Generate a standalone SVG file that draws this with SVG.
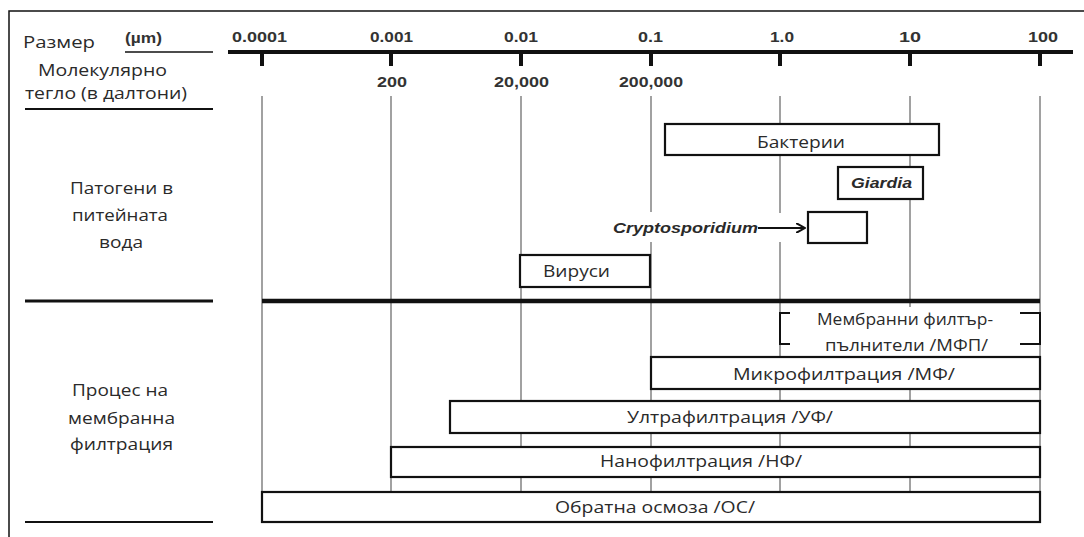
<svg xmlns="http://www.w3.org/2000/svg" width="1084" height="537" viewBox="0 0 1084 537">
<defs>
<style>
.lbl{font-family:"Open Sans","DejaVu Sans",sans-serif;font-size:16px;fill:#2a2a2a}
.num{font-family:"Liberation Sans",Arial,sans-serif;font-size:14px;font-weight:bold;fill:#333}
.it{font-family:"Liberation Sans",Arial,sans-serif;font-size:15px;font-weight:bold;font-style:italic;fill:#2a2a2a}
.grid{stroke:#8a8a8a;stroke-width:1.6;fill:none}
.box{fill:#fff;stroke:#111;stroke-width:2.2}
.rule{stroke:#111;fill:none}
</style>
<marker id="arr" viewBox="0 0 10 10" refX="9" refY="5" markerWidth="10" markerHeight="10" markerUnits="userSpaceOnUse" orient="auto">
<path d="M0,0 L9,5 L0,10" fill="none" stroke="#111" stroke-width="2"/>
</marker>
</defs>
<rect x="0" y="0" width="1084" height="537" fill="#fff"/>
<path class="rule" d="M9,537 V11 H1084" stroke-width="1.5"/>

<g id="axis">
<line class="rule" x1="228" y1="52" x2="1073" y2="52" stroke-width="4"/>
<g fill="#111">
<rect x="260" y="52" width="4" height="14"/>
<rect x="389" y="52" width="4" height="14"/>
<rect x="519" y="52" width="4" height="14"/>
<rect x="649" y="52" width="4" height="14"/>
<rect x="778" y="52" width="4" height="14"/>
<rect x="908" y="52" width="4" height="14"/>
<rect x="1038" y="52" width="4" height="14"/>
</g>
<text class="num" x="232" y="42" textLength="55" lengthAdjust="spacingAndGlyphs">0.0001</text>
<text class="num" x="370" y="42" textLength="43" lengthAdjust="spacingAndGlyphs">0.001</text>
<text class="num" x="504" y="42" textLength="34" lengthAdjust="spacingAndGlyphs">0.01</text>
<text class="num" x="638" y="42" textLength="25" lengthAdjust="spacingAndGlyphs">0.1</text>
<text class="num" x="770" y="42" textLength="24" lengthAdjust="spacingAndGlyphs">1.0</text>
<text class="num" x="899" y="42" textLength="22" lengthAdjust="spacingAndGlyphs">10</text>
<text class="num" x="1028" y="42" textLength="30" lengthAdjust="spacingAndGlyphs">100</text>
<text class="num" x="377" y="87" textLength="30" lengthAdjust="spacingAndGlyphs">200</text>
<text class="num" x="494" y="87" textLength="55" lengthAdjust="spacingAndGlyphs">20,000</text>
<text class="num" x="619" y="87" textLength="64" lengthAdjust="spacingAndGlyphs">200,000</text>
</g>

<g id="grid">
<path class="grid" d="M262,96V492 M391,96V492 M521,96V492 M651,96V212 M651,242V492 M780,96V213 M780,242V492 M910,96V307 M910,356V492 M1040,96V492"/>
<line class="rule" x1="262" y1="301" x2="1040" y2="301" stroke-width="4.5"/>
</g>

<g id="left-labels">
<text class="lbl" x="23" y="48" textLength="72" lengthAdjust="spacingAndGlyphs">Размер</text>
<text class="num" x="125" y="43" font-size="13" textLength="37" lengthAdjust="spacingAndGlyphs">(µm)</text>
<line class="rule" x1="125" y1="52" x2="213" y2="52" stroke-width="1.6"/>
<text class="lbl" x="38" y="76" textLength="129" lengthAdjust="spacingAndGlyphs">Молекулярно</text>
<text class="lbl" x="25" y="99" textLength="162" lengthAdjust="spacingAndGlyphs">тегло (в далтони)</text>
<line class="rule" x1="25" y1="109" x2="213" y2="109" stroke-width="2"/>
<text class="lbl" x="70" y="194" textLength="103" lengthAdjust="spacingAndGlyphs">Патогени в</text>
<text class="lbl" x="72" y="221" textLength="96" lengthAdjust="spacingAndGlyphs">питейната</text>
<text class="lbl" x="99" y="248" textLength="44" lengthAdjust="spacingAndGlyphs">вода</text>
<line class="rule" x1="25" y1="301" x2="213" y2="301" stroke-width="3"/>
<text class="lbl" x="72" y="396" textLength="96" lengthAdjust="spacingAndGlyphs">Процес на</text>
<text class="lbl" x="68" y="424" textLength="107" lengthAdjust="spacingAndGlyphs">мембранна</text>
<text class="lbl" x="70" y="450" textLength="103" lengthAdjust="spacingAndGlyphs">филтрация</text>
<line class="rule" x1="25" y1="522" x2="213" y2="522" stroke-width="2"/>
</g>

<g id="bacteria">
<rect class="box" x="665" y="124" width="274" height="31" stroke-width="2.6"/>
<text class="lbl" x="757" y="148" textLength="88" lengthAdjust="spacingAndGlyphs">Бактерии</text>
</g>
<g id="giardia">
<rect class="box" x="838" y="167" width="85" height="32" stroke-width="3"/>
<text class="it" x="851" y="188" textLength="61" lengthAdjust="spacingAndGlyphs">Giardia</text>
</g>
<g id="cryptosporidium">
<text class="it" x="613" y="233" textLength="145" lengthAdjust="spacingAndGlyphs">Cryptosporidium</text>
<rect class="box" x="808" y="212" width="59" height="31"/>
</g>
<g id="viruses">
<rect class="box" x="520" y="255" width="130" height="32"/>
<text class="lbl" x="543" y="277" textLength="67" lengthAdjust="spacingAndGlyphs">Вируси</text>
</g>

<g id="mfp">
<rect x="796" y="307" width="220" height="49" fill="#fff"/>
<path class="rule" d="M790,313 H780 V344 H790 M1020,313 H1040 V344 H1020" stroke-width="2"/>
<text class="lbl" x="817" y="325" textLength="176" lengthAdjust="spacingAndGlyphs">Мембранни филтър-</text>
<text class="lbl" x="825" y="351" textLength="163" lengthAdjust="spacingAndGlyphs">пълнители /МФП/</text>
</g>
<g id="mf">
<rect class="box" x="651" y="357" width="389" height="32"/>
<text class="lbl" x="733" y="380" textLength="222" lengthAdjust="spacingAndGlyphs">Микрофилтрация /МФ/</text>
</g>
<g id="uf">
<rect class="box" x="450" y="401" width="590" height="32"/>
<text class="lbl" x="627" y="423" textLength="206" lengthAdjust="spacingAndGlyphs">Ултрафилтрация /УФ/</text>
</g>
<g id="nf">
<rect class="box" x="391" y="447" width="649" height="30"/>
<text class="lbl" x="600" y="467" textLength="202" lengthAdjust="spacingAndGlyphs">Нанофилтрация /НФ/</text>
</g>
<g id="ro">
<rect class="box" x="262" y="492" width="778" height="30"/>
<text class="lbl" x="555" y="513" textLength="200" lengthAdjust="spacingAndGlyphs">Обратна осмоза /ОС/</text>
</g>

<g id="connectors">
<line x1="758" y1="228" x2="805" y2="228" stroke="#111" stroke-width="2" marker-end="url(#arr)"/>
</g>
</svg>
